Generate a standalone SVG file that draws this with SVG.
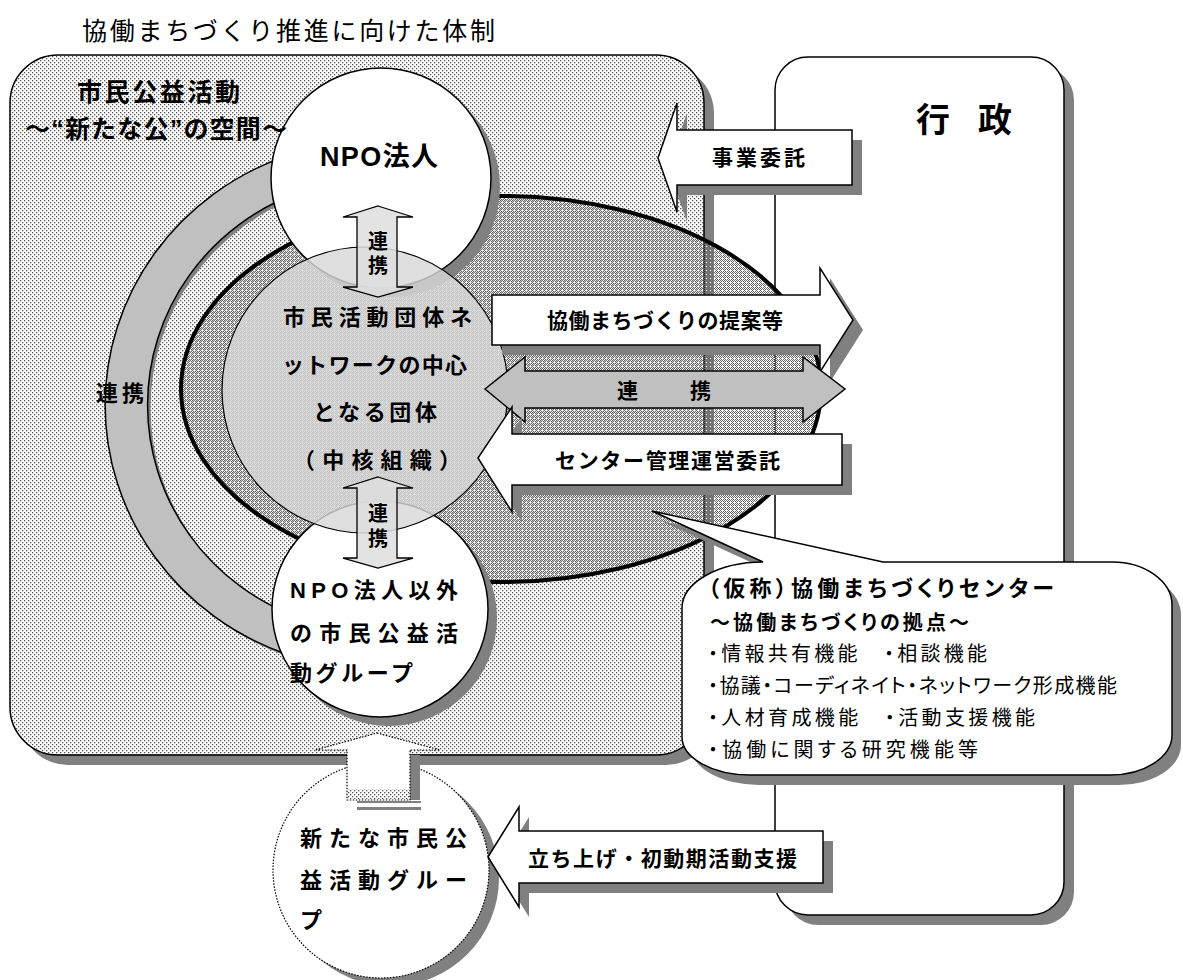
<svg xmlns="http://www.w3.org/2000/svg" width="1183" height="980" viewBox="0 0 1183 980">
<style>
.t{font-family:'Liberation Sans','Noto Sans CJK JP',sans-serif;fill:#000}
.b{font-weight:bold}
.sh{fill:#808080}
.wh{fill:#fff;stroke:#000;stroke-width:1.5}
.gr{fill:#c0c0c0;stroke:#000;stroke-width:1.5}
.dt{fill:#fff;stroke:#000;stroke-width:1.2;stroke-dasharray:1.5 1.5}
.palt{font-feature-settings:"palt"}
</style>
<defs>
<pattern id="dots" width="4" height="4" patternUnits="userSpaceOnUse"><rect width="4" height="4" fill="#fff"/><rect width="1.3" height="1.3" fill="#555"/><rect x="2" y="2" width="1.3" height="1.3" fill="#555"/></pattern>
<pattern id="hatch" width="4" height="4" patternUnits="userSpaceOnUse"><rect width="1" height="1" fill="#666"/><rect x="2" width="1" height="1" fill="#666"/><rect x="1" y="1" width="1" height="1" fill="#666"/><rect x="3" y="1" width="1" height="1" fill="#666"/><rect y="2" width="1" height="1" fill="#666"/><rect x="1" y="3" width="1" height="1" fill="#666"/><rect x="3" y="3" width="1" height="1" fill="#666"/><rect x="2" y="2" width="1" height="1" fill="#fff"/></pattern>
<path id="callout" d="M763 562 L652 511 L883 562 L1112 562 A60 43 0 0 1 1172 605 L1172 735 A62 40 0 0 1 1110 775 L750 775 A68 38 0 0 1 682 737 L682 608 A81 46 0 0 1 763 562 Z"/>
<polygon id="a-jigyo" points="658,158 677,103 677,130 852,130 852,185 677,185 677,212"/>
<polygon id="a-teian" points="492,295 820,295 820,268 853,320 820,372 820,345 492,345"/>
<polygon id="a-center" points="478,458 512,407 512,434 842,434 842,485 512,485 512,512"/>
<polygon id="a-tachiage" points="488,857 519,807 519,831 823,831 823,883 519,883 519,907"/>
</defs>

<text class="t" x="82" y="40" font-size="25" textLength="413">協働まちづくり推進に向けた体制</text>

<g id="shimin-area">
<rect class="sh" x="20" y="65" width="694" height="700" rx="48"/>
<rect x="10" y="55" width="694" height="700" rx="48" fill="url(#dots)" stroke="#000" stroke-width="1.5"/>
</g>

<g id="gyosei">
<rect class="sh" x="785" y="67" width="289" height="858" rx="33"/>
<rect class="wh" x="775" y="57" width="289" height="858" rx="33"/>
<text class="t b" x="916 978" y="132" font-size="34">行政</text>
</g>

<g id="center-area">
<ellipse cx="501" cy="389" rx="320" ry="193" fill="url(#hatch)" stroke="#000" stroke-width="4"/>
</g>

<g id="renkei-arc">
<path class="sh" transform="translate(3,3)" d="M286 156 A275 265 0 0 0 286 654 L300 618 A233 227 0 0 1 300 192 Z"/>
<path class="gr" d="M286 156 A275 265 0 0 0 286 654 L300 618 A233 227 0 0 1 300 192 Z"/>
</g>

<g id="npo">
<circle class="sh" cx="390" cy="187" r="110"/>
<circle class="wh" cx="381" cy="178" r="110"/>
</g>

<g id="npo-igai">
<circle class="sh" cx="389" cy="618" r="108"/>
<circle class="wh" cx="380" cy="609" r="108"/>
<text class="t b" x="290" y="598" font-size="22" textLength="168">NPO法人以外</text>
<text class="t b" x="290" y="641" font-size="22" textLength="168">の市民公益活</text>
<text class="t b" x="290" y="681" font-size="22" textLength="123">動グループ</text>
</g>

<g id="chukaku">
<circle cx="365" cy="390" r="143" fill="#d8d8d8" fill-opacity="0.82" stroke="#000" stroke-width="1.2"/>
<text class="t b" x="283" y="325" font-size="22" textLength="189">市民活動団体ネ</text>
<text class="t b" x="282" y="373" font-size="22" textLength="185">ットワークの中心</text>
<text class="t b" x="313" y="420" font-size="22" textLength="124">となる団体</text>
<text class="t b" x="293" y="468" font-size="22" textLength="168">（中核組織）</text>
</g>

<g id="npo-label">
<text class="t b" x="320" y="166" font-size="27" textLength="118">NPO法人</text>
</g>

<g id="shimin-area-label">
<text class="t b" x="77" y="101" font-size="25" textLength="163">市民公益活動</text>
<text class="t b" x="25" y="138" font-size="25" textLength="262">～“新たな公”の空間～</text>
</g>

<g id="connectors">
<g id="renkei-v1">
<polygon points="378,206 413,217 397,217 397,287 413,287 378,297 343,287 357,287 357,217 343,217" fill="#dedede" fill-opacity="0.85" stroke="#000" stroke-width="1.3"/>
<text class="t b" x="378" y="249" font-size="20" text-anchor="middle">連<tspan x="378" dy="24">携</tspan></text>
</g>
<g id="renkei-v2">
<polygon points="378,477 413,488 397,488 397,558 413,558 378,568 343,558 357,558 357,488 343,488" fill="#dedede" fill-opacity="0.85" stroke="#000" stroke-width="1.3"/>
<text class="t b" x="378" y="521" font-size="20" text-anchor="middle">連<tspan x="378" dy="25">携</tspan></text>
</g>
<text class="t b" x="96" y="401" font-size="22" textLength="48">連携</text>
<g id="jigyo">
<use href="#a-jigyo" class="sh" transform="translate(10,10)"/>
<use href="#a-jigyo" class="wh"/>
<text class="t b" x="712" y="165" font-size="21" textLength="93">事業委託</text>
</g>
<g id="teian">
<use href="#a-teian" class="sh" transform="translate(10,10)"/>
<use href="#a-teian" class="wh"/>
<text class="t b" x="547" y="328" font-size="21" textLength="236">協働まちづくりの提案等</text>
</g>
<g id="renkei-h">
<polygon points="485,389 525,357 525,371 803,371 803,357 845,389 803,422 803,408 525,408 525,422" class="gr"/>
<text class="t b" x="617 690" y="398" font-size="21">連携</text>
</g>
<g id="center-itaku">
<use href="#a-center" class="sh" transform="translate(10,10)"/>
<use href="#a-center" class="wh"/>
<text class="t b" x="555" y="468" font-size="21" textLength="225">センター管理運営委託</text>
</g>
</g>

<g id="center-callout">
<use href="#callout" class="sh" transform="translate(9,10)"/>
<use href="#callout" class="wh"/>
<text class="t b palt" x="708" y="596" font-size="22" textLength="346">（仮称）協働まちづくりセンター</text>
<text class="t b palt" x="710" y="630" font-size="20" textLength="259">～協働まちづくりの拠点～</text>
<text class="t palt" x="708" y="661" font-size="20" textLength="279">・情報共有機能　・相談機能</text>
<text class="t palt" x="708" y="693" font-size="20" textLength="409">・協議・コーディネイト・ネットワーク形成機能</text>
<text class="t palt" x="708" y="725" font-size="20" textLength="327">・人材育成機能　・活動支援機能</text>
<text class="t palt" x="708" y="757" font-size="20" textLength="270">・協働に関する研究機能等</text>
</g>

<g id="new-group">
<circle class="sh" cx="391" cy="878" r="108"/>
<circle class="dt" cx="381" cy="870" r="108"/>
<text class="t b" x="300" y="846" font-size="22" textLength="167">新たな市民公</text>
<text class="t b" x="300" y="888" font-size="22" textLength="167">益活動グルー</text>
<text class="t b" x="300" y="928" font-size="22">プ</text>
</g>

<g id="connectors-2">
<g id="up-arrow">
<rect class="sh" x="410" y="755" width="10" height="45"/>
<polygon class="dt" points="377,733 440,750 410,750 410,800 347,800 347,750 315,750"/>
<rect x="348" y="789" width="61" height="10" fill="url(#dots)"/>
<rect class="sh" x="357" y="801" width="64" height="2"/>
<rect class="sh" x="357" y="807" width="64" height="3"/>
</g>
<g id="tachiage">
<use href="#a-tachiage" class="sh" transform="translate(10,10)"/>
<use href="#a-tachiage" class="wh"/>
<text class="t b" x="528" y="866" font-size="21" textLength="269">立ち上げ・初動期活動支援</text>
</g>
</g>
</svg>
